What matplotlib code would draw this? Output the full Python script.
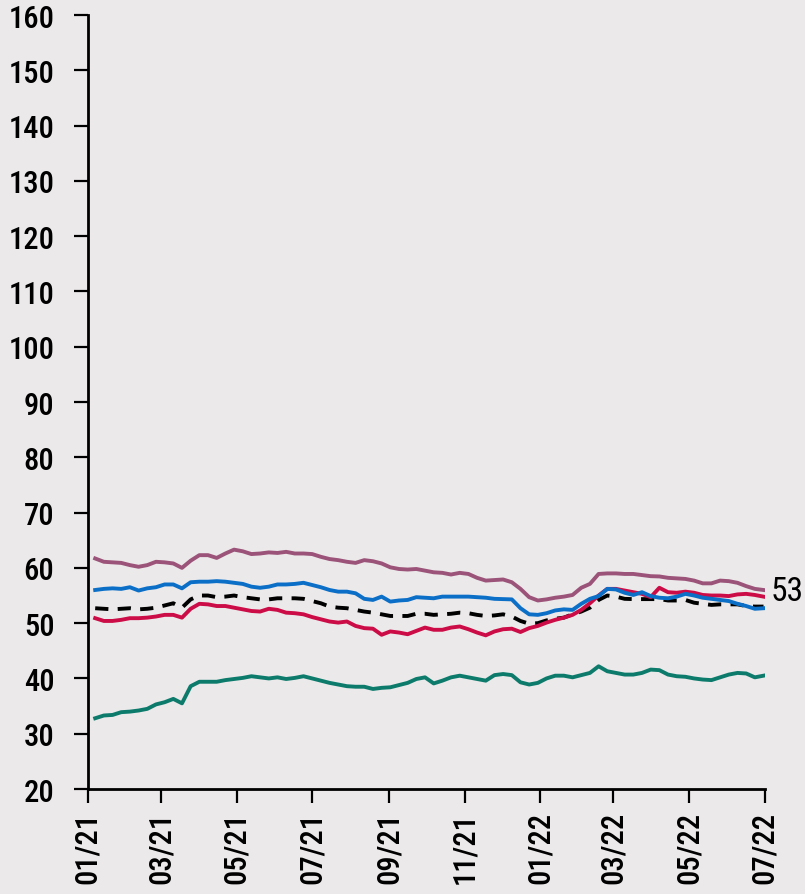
import numpy as np
import pandas as pd
import matplotlib
matplotlib.use('Agg')
import matplotlib.pyplot as plt
import matplotlib.dates as mdates
from matplotlib import font_manager

# prefer a narrow face for the labels if one is around
names = {f.name for f in font_manager.fontManager.ttflist}
narrow = [n for n in ['Roboto Condensed', 'Liberation Sans Narrow', 'Open Sans Condensed',
                      'Noto Sans Condensed', 'DejaVu Sans'] if n in names]
plt.rcParams['font.family'] = narrow + ['DejaVu Sans']
plt.rcParams['font.stretch'] = 'condensed'

# weekly index readings, Jan 2021 - Jun 2022
dates = pd.date_range('2021-01-07', periods=78, freq='7D')

mauve = [61.7, 61.1, 61.0, 60.9, 60.5, 60.2, 60.5, 61.1, 61.0, 60.8,
         60.0, 61.3, 62.3, 62.3, 61.8, 62.6, 63.3, 63.0, 62.5, 62.6,
         62.8, 62.7, 62.9, 62.6, 62.6, 62.5, 62.0, 61.6, 61.4, 61.1,
         60.9, 61.4, 61.2, 60.8, 60.1, 59.8, 59.7, 59.8, 59.5, 59.2,
         59.1, 58.8, 59.1, 58.9, 58.2, 57.7, 57.8, 57.9, 57.4, 56.2,
         54.7, 54.1, 54.3, 54.6, 54.8, 55.1, 56.4, 57.1, 58.9, 59.0,
         59.0, 58.9, 58.9, 58.7, 58.5, 58.45, 58.2, 58.1, 58.0, 57.7,
         57.2, 57.2, 57.7, 57.6, 57.3, 56.7, 56.2, 56.0]

blue = [56.0, 56.2, 56.3, 56.2, 56.5, 55.9, 56.3, 56.5, 57.0, 57.0,
        56.3, 57.4, 57.5, 57.5, 57.6, 57.5, 57.3, 57.1, 56.6, 56.4,
        56.6, 57.0, 57.0, 57.1, 57.3, 56.9, 56.5, 56.0, 55.7, 55.7,
        55.4, 54.4, 54.2, 54.8, 53.9, 54.1, 54.2, 54.7, 54.6, 54.5,
        54.8, 54.8, 54.8, 54.8, 54.7, 54.6, 54.4, 54.35, 54.3, 52.7,
        51.6, 51.5, 51.8, 52.3, 52.5, 52.4, 53.5, 54.4, 54.9, 56.2,
        56.1, 55.5, 55.1, 55.6, 54.9, 54.6, 54.5, 54.8, 55.3, 55.0,
        54.6, 54.4, 54.2, 54.0, 53.5, 53.1, 52.6, 52.7]

average = [52.7, 52.6, 52.5, 52.6, 52.7, 52.5, 52.6, 52.8, 53.2, 53.6,
           52.8, 54.3, 55.0, 55.0, 54.7, 54.8, 55.0, 54.7, 54.5, 54.3,
           54.3, 54.5, 54.5, 54.5, 54.4, 54.0, 53.6, 53.0, 52.8, 52.7,
           52.4, 52.1, 51.9, 51.6, 51.3, 51.3, 51.3, 51.7, 51.7, 51.5,
           51.6, 51.7, 51.9, 51.8, 51.5, 51.3, 51.4, 51.6, 51.2, 50.4,
           49.9, 50.0, 50.5, 50.8, 51.0, 51.6, 52.1, 52.8, 54.2, 55.0,
           54.8, 54.4, 54.35, 54.35, 54.35, 54.35, 54.1, 54.1, 54.2, 53.7,
           53.5, 53.3, 53.4, 53.4, 53.4, 53.1, 53.0, 53.0]

red = [50.9, 50.4, 50.4, 50.6, 50.9, 50.9, 51.0, 51.2, 51.5, 51.5,
       51.0, 52.6, 53.5, 53.4, 53.1, 53.1, 52.8, 52.5, 52.2, 52.1,
       52.6, 52.4, 51.9, 51.8, 51.6, 51.1, 50.7, 50.3, 50.1, 50.3,
       49.5, 49.1, 49.0, 47.9, 48.5, 48.3, 48.0, 48.6, 49.2, 48.8,
       48.8, 49.2, 49.4, 48.9, 48.3, 47.8, 48.5, 48.9, 49.0, 48.4,
       49.1, 49.5, 50.1, 50.6, 51.0, 51.5, 52.4, 53.6, 55.0, 56.2,
       56.2, 55.9, 55.6, 55.3, 54.7, 56.4, 55.6, 55.5, 55.7, 55.5,
       55.1, 55.0, 55.0, 54.9, 55.2, 55.3, 55.1, 54.8]

teal = [32.8, 33.3, 33.4, 33.9, 34.0, 34.2, 34.5, 35.3, 35.7, 36.3,
        35.5, 38.6, 39.4, 39.4, 39.4, 39.7, 39.9, 40.1, 40.4, 40.2,
        40.0, 40.2, 39.9, 40.1, 40.4, 40.0, 39.6, 39.2, 38.9, 38.6,
        38.5, 38.5, 38.1, 38.3, 38.4, 38.8, 39.2, 39.9, 40.2, 39.1,
        39.6, 40.2, 40.5, 40.2, 39.9, 39.6, 40.6, 40.8, 40.6, 39.3,
        38.9, 39.2, 40.0, 40.5, 40.5, 40.2, 40.6, 41.0, 42.2, 41.3,
        41.0, 40.7, 40.7, 41.0, 41.6, 41.5, 40.7, 40.4, 40.3, 40.0,
        39.8, 39.7, 40.2, 40.7, 41.0, 40.9, 40.2, 40.5]

bg = '#ebe9ea'
fig = plt.figure(figsize=(8.05, 8.95), dpi=100, facecolor=bg)
ax = fig.add_axes([0.109, 0.1173, 0.841, 0.8648], facecolor=bg)

lw = 2.8
ax.plot(dates, average, color='black', lw=lw, dashes=(3.4, 2.4), zorder=3)
ax.plot(dates, mauve, color='#9c5379', lw=lw, zorder=3)
ax.plot(dates, red, color='#cc0c47', lw=lw, zorder=4)
ax.plot(dates, blue, color='#0b6fc8', lw=lw, zorder=5)
ax.plot(dates, teal, color='#0d7b6c', lw=lw, zorder=3)

# last value of the average
ax.annotate(f'{average[-1]:.0f}', xy=(dates[-1], average[-1]),
            xytext=(5, 11), textcoords='offset points',
            fontsize=24, va='center', ha='left', annotation_clip=False)

ax.set_ylim(20, 160)
ax.set_yticks(np.arange(20, 161, 10))
ax.set_xlim(pd.Timestamp('2021-01-01'), pd.Timestamp('2022-07-01'))
ax.xaxis.set_major_locator(mdates.MonthLocator(bymonth=[1, 3, 5, 7, 9, 11]))
ax.xaxis.set_major_formatter(mdates.DateFormatter('%m/%y'))

for s in ['top', 'right']:
    ax.spines[s].set_visible(False)
for s in ['left', 'bottom']:
    ax.spines[s].set_linewidth(2)

ax.tick_params(axis='both', direction='out', length=10, width=1.6, labelsize=22)
ax.tick_params(axis='x', labelrotation=90, pad=6)
ax.tick_params(axis='y', pad=14)
for lab in ax.get_xticklabels() + ax.get_yticklabels():
    lab.set_fontweight('medium')

plt.savefig('out.png', dpi=100, facecolor=bg)
